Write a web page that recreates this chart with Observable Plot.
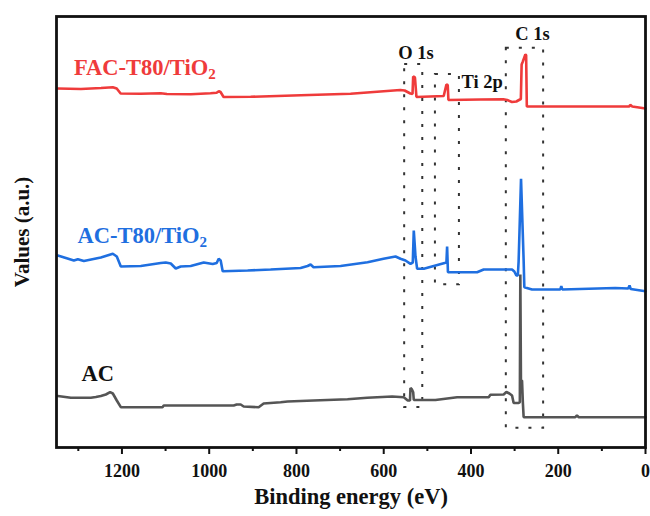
<!DOCTYPE html>
<html><head><meta charset="utf-8">
<script src="https://cdn.jsdelivr.net/npm/d3@7"></script>
<script src="https://cdn.jsdelivr.net/npm/@observablehq/plot@0.6"></script>
<style>body{margin:0;background:#fff;}</style>
</head><body><div id="chart"></div>
<script>
// Binding energy (eV) and intensity (a.u., stacked offsets)
const energyFAC = [1347,1294,1248,1221,1212,1203,1157,1111,1097,1042,997,983,978,974,967,905,790,676,562,552,539,534,532.5,528.4,525,462.5,456.3,453.3,451.7,378,326,317,306,296,290,285.7,283.9,281.1,275.4,273.6,272,195,104,37.3,35,30.4,0];
const valueFAC  = [359,358.5,359.5,360.3,359,354,353.7,354.3,353.5,353.3,354.3,354.7,356.3,355.5,350.5,350.7,352.2,353.7,357.5,357,354,353.5,371,370,350.5,351.5,363,362.5,347.5,348,348.3,347.5,345.5,346,347.5,348.5,383,386,393,392.5,341,341,341,341,342.7,341,339];

const energyACT = [1347,1328.5,1310.2,1301.1,1287.3,1248.4,1220.9,1211.8,1202.6,1156.8,1111,1099.6,1088.1,1076.7,1065.3,1042.4,1012.6,992,982.8,978.3,973.7,969.1,911.9,859.2,790.5,774.5,767.6,760.8,698.9,637.1,600.5,573,561.6,550.1,538.7,533.4,531.1,528.8,527.2,523.4,508.2,462.5,456.3,454.7,452.8,386,370.9,305.9,300.6,296,292.6,290.8,285.3,279.3,277.7,260.1,195.3,193,190.7,69.4,39.6,36.6,33.9,0];
const valueACT  = [192,189.5,187,188.3,186.5,190,193.7,191,181,181.5,184.5,185,184,179,181,181.5,185,183.5,184.5,188.7,187,176.3,177,178,179.5,181.5,183,180.3,181.5,185.3,188.7,191,188.7,187,183.7,185,217,202,191,178.7,178.7,184.3,185,201,175.3,175.3,178,178,176,172,172,186.3,268.7,187,160.3,158,158,161.5,158,159.5,159,162,158.5,156.3];

const energyAC = [1347,1317.1,1271.3,1259.8,1248.4,1236.9,1227.1,1220.9,1211.8,1202.6,1107.1,1104.2,1019.5,943.9,937,927.9,921,886.7,875.2,836.3,820.3,760.8,682.9,637.8,580.6,554,544.9,539.8,538.7,535.3,532.5,531.1,481.5,431.8,359.4,355.5,325.1,318.9,312,305.9,302.2,290.8,288,286.9,285.5,283,281.1,279.3,160.9,157.1,152.9,0];
const valueAC  = [51.5,49.7,49.7,50.5,51.5,53,55.3,54,47,40.3,40.3,42,42,42,43,43,41,40.3,44,45.3,46,47,48.3,49.7,51,50.3,47,47,59.5,58,55.3,47.5,47.5,50.3,50.3,52.7,53,55.5,54,52,44.5,44.5,45.3,173,67,67,45,30.3,30.3,32,30.3,30.3];

const seriesNames = ["FAC-T80/TiO", "AC-T80/TiO", "AC"];
const seriesColors = ["#ef3b3b", "#1f6fe0", "#555555"];

// peak-region boxes (eV range, intensity range) and their labels
const boxNames = ["O 1s", "Ti 2p", "C 1s"];
const boxE1 = [552, 481.5, 319];
const boxE2 = [510.5, 426.5, 233.5];
const boxV1 = [40, 162.7, 19.3];
const boxV2 = [383, 373, 399.3];
const boxLabelE = [526, 374.5, 259];
const boxLabelV = [394, 365.3, 413.7];

// series labels positions
const seriesLabelE = [1310, 1302, 1292.6];
const seriesLabelV = [380, 212, 74];

const xMajorTicks = [1200, 1000, 800, 600, 400, 200, 0];
const xMinorTicks = [1300, 1100, 900, 700, 500, 300, 100];

const toRows = (E, V, name) => E.map((e, i) => ({e, v: V[i], name}));
const rows = [
  ...toRows(energyAC, valueAC, "AC"),
  ...toRows(energyFAC, valueFAC, "FAC-T80/TiO"),
  ...toRows(energyACT, valueACT, "AC-T80/TiO")
];
const boxes = boxNames.map((n, i) => ({n, e1: boxE1[i], e2: boxE2[i], v1: boxV1[i], v2: boxV2[i], le: boxLabelE[i], lv: boxLabelV[i]}));
const slabels = seriesNames.map((n, i) => ({n, e: seriesLabelE[i], v: seriesLabelV[i], c: i === 2 ? "#111" : seriesColors[i]}));

const chart = Plot.plot({
  width: 650,
  height: 516,
  marginLeft: 56,
  marginRight: 5,
  marginTop: 16,
  marginBottom: 69,
  style: {fontFamily: "'Liberation Serif', 'Times New Roman', serif", fontWeight: "bold", fontSize: "18px", background: "#fff", color: "#111"},
  x: {domain: [1350, 0]},
  y: {domain: [0, 431], axis: null},
  color: {domain: seriesNames, range: seriesColors},
  marks: [
    Plot.rect(boxes, {x1: "e1", x2: "e2", y1: "v1", y2: "v2", fill: "none", stroke: "#333", strokeWidth: 2, strokeDasharray: "3,10"}),
    Plot.line(rows, {x: "e", y: "v", z: "name", stroke: "name", strokeWidth: 2.6, strokeLinejoin: "miter", curve: "linear"}),
    Plot.text(boxes, {x: "le", y: "lv", text: "n", fontSize: 18.5, fill: "#111", fontWeight: "bold"}),
    Plot.text(slabels, {x: "e", y: "v", text: "n", fill: "c", textAnchor: "start", fontSize: 22.5, fontWeight: "bold"}),
    Plot.frame({stroke: "#111", strokeWidth: 2.8}),
    Plot.axisX({ticks: xMajorTicks, tickSize: 7, tickPadding: 10, strokeWidth: 2, fontSize: 18, label: null, tickFormat: d => String(d)}),
    Plot.axisX({ticks: xMinorTicks, tickSize: 4, text: null, strokeWidth: 2, label: null}),
    Plot.text(["Binding energy (eV)"], {frameAnchor: "bottom", dy: 56, fontSize: 22.5, fontWeight: "bold", fill: "#111"}),
    Plot.text(["Values (a.u.)"], {frameAnchor: "left", textAnchor: "middle", dx: -34, rotate: -90, fontSize: 21, fontWeight: "bold", fill: "#111"})
  ]
});
document.getElementById("chart").appendChild(chart);

// add subscript "2" to the TiO labels
chart.querySelectorAll("text").forEach(t => {
  if (t.textContent.endsWith("TiO")) {
    const ts = document.createElementNS("http://www.w3.org/2000/svg", "tspan");
    ts.setAttribute("dy", "0.3em");
    ts.setAttribute("font-size", "15");
    ts.textContent = "2";
    t.appendChild(ts);
  }
});
</script>
</body></html>
